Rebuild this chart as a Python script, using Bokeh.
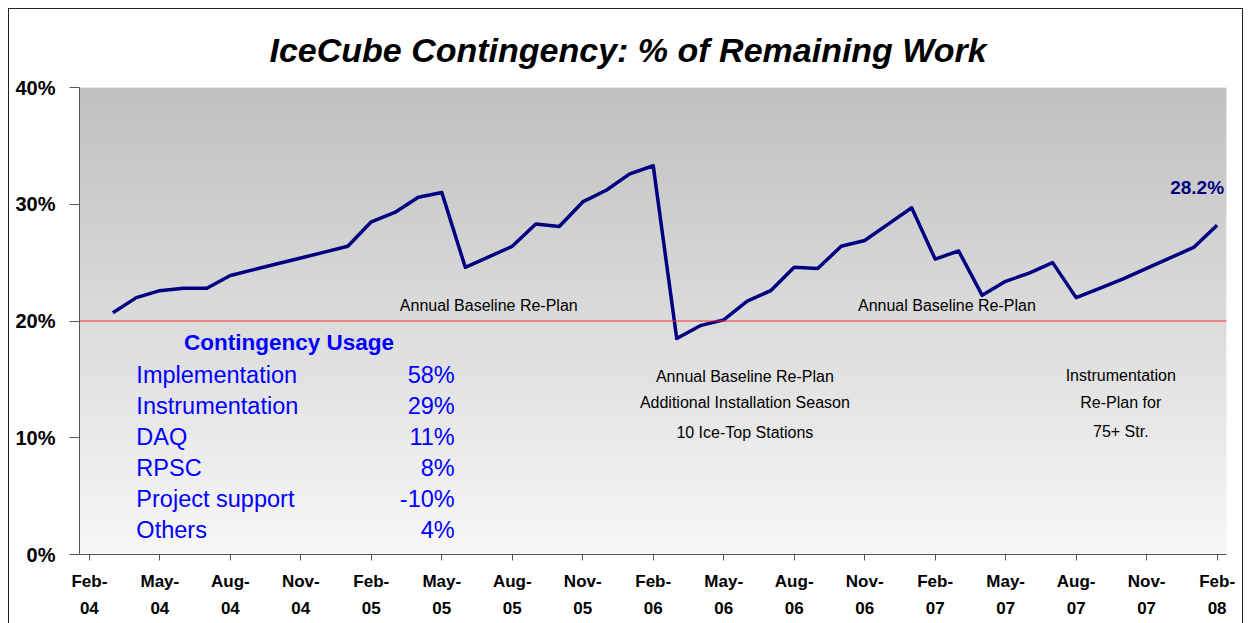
import numpy as np
from bokeh.plotting import figure
from bokeh.models import FixedTicker, LinearAxis, Span, Range1d
from bokeh.core.properties import value
from bokeh.embed import file_html
from bokeh.resources import INLINE

# ---------------- data ----------------
months = list(range(1, 49))  # months since Feb-2004
contingency = [20.7, 22.0, 22.6, 22.8, 22.8, 23.9, 24.4, 24.9, 25.4, 25.9, 26.4, 28.5,
               29.3, 30.6, 31.0, 24.6, 25.5, 26.4, 28.3, 28.1, 30.2, 31.2, 32.6, 33.3,
               18.5, 19.6, 20.1, 21.7, 22.6, 24.6, 24.5, 26.4, 26.9, 28.3, 29.7, 25.3,
               26.0, 22.2, 23.4, 24.1, 25.0, 22.0, 22.8, 23.6, 24.5, 25.4, 26.3, 28.2]
threshold = 20
last_label = "28.2%"
title_text = "IceCube Contingency: % of Remaining Work"

quarter_ticks = list(range(0, 49, 3))
tick_months = ["Feb-", "May-", "Aug-", "Nov-"] * 4 + ["Feb-"]
tick_years = ["04"] * 4 + ["05"] * 4 + ["06"] * 4 + ["07"] * 4 + ["08"]
y_ticks = [0, 10, 20, 30, 40]
y_labels = ["0%", "10%", "20%", "30%", "40%"]

usage_names = ["Implementation", "Instrumentation", "DAQ", "RPSC", "Project support", "Others"]
usage_values = ["58%", "29%", "11%", "8%", "-10%", "4%"]

FONT = "Liberation Sans"
X0, X1 = -0.42, 48.4

p = figure(width=1235, height=620, output_backend="svg", toolbar_location=None,
           x_range=Range1d(X0, X1), y_range=Range1d(0, 40),
           min_border_left=70, min_border_right=18, min_border_top=78, min_border_bottom=75,
           background_fill_color="#f4f4f4", border_fill_color="white",
           outline_line_color=None, x_axis_type=None, y_axis_type=None)
p.styles = {"border": "1px solid #222", "margin-left": "8px", "margin-top": "8px"}
p.grid.visible = False

# title
p.title.text = title_text
p.title.text_font = FONT
p.title.text_font_size = "34px"
p.title.text_font_style = "bold italic"
p.title.text_color = "black"
p.title.align = "left"
p.title.vertical_align = "top"
p.title.offset = 190
p.title.standoff = 34

# gradient background
n = 200
t = np.linspace(0, 1, n)  # 0 bottom -> 1 top
top = np.array([192, 192, 192])
bot = np.array([248, 248, 248])
cols = (bot[None, :] * (1 - t[:, None]) + top[None, :] * t[:, None]).astype(np.uint32)
img = np.empty((n, 1), dtype=np.uint32)
view = img.view(dtype=np.uint8).reshape((n, 1, 4))
view[:, 0, 0] = cols[:, 0]
view[:, 0, 1] = cols[:, 1]
view[:, 0, 2] = cols[:, 2]
view[:, 0, 3] = 255
p.image_rgba(image=[img], x=X0, y=0, dw=X1 - X0, dh=40)

# threshold line
p.add_layout(Span(location=threshold, dimension="width", line_color="#ee3030", line_width=1.2))

# main line
p.line(months, contingency, line_color="#000080", line_width=3.5, line_join="round")

# axes
yaxis = LinearAxis(ticker=FixedTicker(ticks=y_ticks),
                   major_label_overrides={t_: l for t_, l in zip(y_ticks, y_labels)},
                   axis_line_color="#555555", major_tick_line_color="#555555",
                   major_tick_out=10, major_tick_in=0, minor_tick_line_color=None,
                   major_label_standoff=14, major_label_text_font=FONT,
                   major_label_text_font_size="20px", major_label_text_font_style="bold",
                   major_label_text_color="black")
p.add_layout(yaxis, "left")

xaxis_m = LinearAxis(ticker=FixedTicker(ticks=quarter_ticks),
                     major_label_overrides={q: l for q, l in zip(quarter_ticks, tick_months)},
                     axis_line_color="#555555", major_tick_line_color="#555555",
                     major_tick_out=6, major_tick_in=0, minor_tick_line_color=None,
                     major_label_standoff=11, major_label_text_font=FONT,
                     major_label_text_font_size="17px", major_label_text_font_style="bold",
                     major_label_text_color="black")
p.add_layout(xaxis_m, "below")

xaxis_y = LinearAxis(ticker=FixedTicker(ticks=quarter_ticks),
                     major_label_overrides={q: l for q, l in zip(quarter_ticks, tick_years)},
                     axis_line_color=None, major_tick_line_color=None, minor_tick_line_color=None,
                     major_tick_out=0, major_tick_in=0,
                     major_label_standoff=8, major_label_text_font=FONT,
                     major_label_text_font_size="17px", major_label_text_font_style="bold",
                     major_label_text_color="black")
p.add_layout(xaxis_y, "below")

# annotations
note_kw = dict(text_font=value(FONT), text_font_size="16px", text_color="black",
               text_align="center", text_baseline="middle")
p.text(x=[17.0, 36.5], y=[21.3, 21.3], text=["Annual Baseline Re-Plan"] * 2, **note_kw)
p.text(x=[27.9] * 3, y=[15.25, 13.0, 10.45],
       text=["Annual Baseline Re-Plan", "Additional Installation Season", "10 Ice-Top Stations"], **note_kw)
p.text(x=[43.9] * 3, y=[15.35, 13.05, 10.5],
       text=["Instrumentation", "Re-Plan for", "75+ Str."], **note_kw)

p.text(x=[months[-1] - 0.85], y=[31.45], text=[last_label], text_font=value(FONT),
       text_font_size="19px", text_font_style="bold", text_color="#000080",
       text_align="center", text_baseline="middle")

# contingency usage table
p.text(x=[8.5], y=[18.15], text=["Contingency Usage"], text_font=value(FONT),
       text_font_size="22.5px", text_font_style="bold", text_color="#0000ff",
       text_align="center", text_baseline="middle")
row_y = [15.35 - 2.65 * i for i in range(len(usage_names))]
p.text(x=[2.0] * len(usage_names), y=row_y, text=usage_names, text_font=value(FONT),
       text_font_size="23.5px", text_color="#0000ff", text_align="left", text_baseline="middle")
p.text(x=[15.55] * len(usage_values), y=row_y, text=usage_values, text_font=value(FONT),
       text_font_size="23.5px", text_color="#0000ff", text_align="right", text_baseline="middle")

open("out.html", "w").write(file_html(p, INLINE))
